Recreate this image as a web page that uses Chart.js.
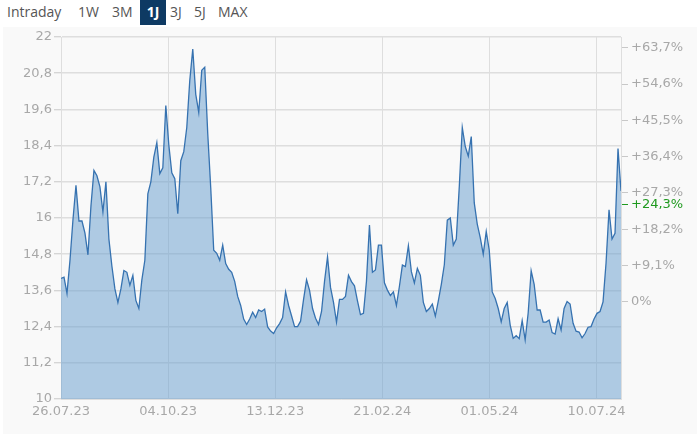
<!DOCTYPE html>
<html>
<head>
<meta charset="utf-8">
<script src="https://cdn.jsdelivr.net/npm/chart.js@4.4.1/dist/chart.umd.min.js"></script>
<style>
  body { margin: 0; background: #fff; width: 700px; height: 438px; overflow: hidden; position: relative; }
  .tabs { position: absolute; left: 0; top: 0; height: 25px; font-family: "Open Sans", sans-serif; font-size: 14px; color: #555; }
  .tabs span { position: absolute; top: 0; height: 25px; line-height: 24px; white-space: nowrap; }
  .tabs .active { background: #0e3a63; color: #fff; font-weight: bold; text-align: center; }
  .panel { position: absolute; left: 3px; top: 27px; width: 694px; height: 407px; background: #f9f9f9; }
  #chart { position: absolute; left: 0; top: 0; }
</style>
</head>
<body>
<div class="tabs">
  <span style="left:7px">Intraday</span>
  <span style="left:78px">1W</span>
  <span style="left:112px">3M</span>
  <span class="active" style="left:140px;width:26px">1J</span>
  <span style="left:170px">3J</span>
  <span style="left:194px">5J</span>
  <span style="left:218px">MAX</span>
</div>
<div class="panel"></div>
<canvas id="chart" width="700" height="438"></canvas>
<script>
// Price, one value about every two calendar days from 26.07.23
const prices = [
  14.0, 14.04, 13.5, 14.6, 15.95, 17.08, 15.9, 15.9, 15.5, 14.78,
  16.4, 17.58, 17.4, 17.03, 16.2, 17.2, 15.3, 14.4, 13.65, 13.2,
  13.65, 14.26, 14.2, 13.77, 14.1, 13.27, 13.0, 13.95, 14.6, 16.8,
  17.2, 18.02, 18.5, 17.47, 17.66, 19.73, 18.43, 17.5, 17.3, 16.14,
  17.9, 18.2, 19.0, 20.56, 21.6, 20.1, 19.5, 20.9, 21.0, 18.8,
  17.0, 14.93, 14.83, 14.6, 15.1, 14.49, 14.3, 14.2, 13.9, 13.4,
  13.1, 12.65, 12.47, 12.65, 12.88, 12.7, 12.95, 12.9, 12.98, 12.39,
  12.25, 12.17, 12.36, 12.5, 12.7, 13.55, 13.1, 12.75, 12.4, 12.4,
  12.58, 13.3, 13.95, 13.6, 13.0, 12.68, 12.47, 12.9, 13.9, 14.71,
  13.7, 13.2, 12.55, 13.3, 13.3, 13.4, 14.1, 13.89, 13.75, 13.25,
  12.8, 12.84, 13.9, 15.77, 14.2, 14.28, 15.1, 15.1, 13.85, 13.61,
  13.43, 13.55, 13.1, 13.73, 14.44, 14.39, 15.08, 14.22, 13.85, 14.33,
  14.1, 13.2, 12.9, 13.0, 13.15, 12.75, 13.25, 13.8, 14.45, 15.93,
  16.0, 15.1, 15.3, 17.04, 19.0, 18.37, 18.05, 18.7, 16.5, 15.8,
  15.35, 14.8, 15.55, 14.94, 13.55, 13.33, 13.0, 12.56, 13.0, 13.2,
  12.45, 12.01, 12.1, 12.0, 12.6, 11.96, 12.85, 14.25, 13.8, 12.95,
  12.95, 12.55, 12.55, 12.62, 12.2, 12.15, 12.66, 12.29, 13.0, 13.23,
  13.15, 12.51, 12.25, 12.22, 12.03, 12.17, 12.38, 12.4, 12.65, 12.84,
  12.9, 13.22, 14.5, 16.27, 15.3, 15.49, 18.3, 16.9
];

const dateLabels = ['26.07.23', '04.10.23', '13.12.23', '21.02.24', '01.05.24', '10.07.24'];
const dateDays = [0, 70, 140, 210, 280, 350];
const totalDays = 366;

const priceTicks = [10, 11.2, 12.4, 13.6, 14.8, 16, 17.2, 18.4, 19.6, 20.8, 22];
const basePrice = 13.22;
const pctTicks = [0, 9.1, 18.2, 27.3, 36.4, 45.5, 54.6, 63.7];
const lastPct = 24.3;

const daysPerPoint = totalDays / (prices.length - 1);
const gray = '#a8a8a8';
const green = '#1f9a1f';

function fmtNum(v) {
  return (Math.round(v * 10) / 10).toString().replace('.', ',');
}
function fmtPct(p) {
  return p === 0 ? '0%' : '+' + p.toFixed(1).replace('.', ',') + '%';
}

const ctx = document.getElementById('chart').getContext('2d');
new Chart(ctx, {
  type: 'line',
  data: {
    labels: prices.map((p, i) => i),
    datasets: [{
      data: prices.map((p, i) => ({ x: i, y: p })),
      borderColor: '#3672b0',
      borderWidth: 1.3,
      backgroundColor: 'rgba(100,155,205,0.5)',
      fill: 'start',
      pointRadius: 0,
      tension: 0
    }]
  },
  options: {
    responsive: false,
    animation: false,
    layout: { padding: { top: 37, left: 0, right: 0, bottom: 0 } },
    plugins: { legend: { display: false }, tooltip: { enabled: false } },
    scales: {
      x: {
        type: 'linear',
        min: 0,
        max: prices.length - 1,
        afterBuildTicks: s => { s.ticks = dateDays.map(d => ({ value: d / daysPerPoint })); },
        afterFit: s => { s.height = 39; },
        ticks: {
          autoSkip: false,
          maxRotation: 0,
          padding: 5,
          color: gray,
          font: { family: 'DejaVu Sans', size: 13 },
          callback: (v, i) => dateLabels[i]
        },
        grid: { color: '#dedede', lineWidth: 1, drawTicks: false },
        border: { display: true, color: '#dedede' }
      },
      y: {
        position: 'left',
        min: 10,
        max: 22,
        afterBuildTicks: s => { s.ticks = priceTicks.map(v => ({ value: v })); },
        afterFit: s => { s.width = 61; },
        ticks: {
          padding: 2,
          color: gray,
          font: { family: 'DejaVu Sans', size: 13 },
          callback: v => fmtNum(v)
        },
        grid: { color: '#dedede', lineWidth: 1.5, tickLength: 7, tickColor: '#c8c8c8', tickWidth: 1 },
        border: { display: true, color: '#dedede' }
      },
      y2: {
        position: 'right',
        min: 10,
        max: 22,
        afterBuildTicks: s => {
          const t = pctTicks.map(p => ({ value: basePrice * (1 + p / 100), pct: p }));
          t.push({ value: basePrice * (1 + lastPct / 100), pct: lastPct, hl: true });
          t.sort((a, b) => a.value - b.value);
          s.ticks = t;
        },
        afterFit: s => { s.width = 79; },
        ticks: {
          autoSkip: false,
          padding: 3,
          color: c => (c.tick && c.tick.hl ? green : gray),
          font: { family: 'DejaVu Sans', size: 13 },
          callback: function (v, i, ticks) { return fmtPct(ticks[i].pct); }
        },
        grid: {
          drawOnChartArea: false,
          tickLength: 7,
          tickColor: c => (c.tick && c.tick.hl ? green : '#c8c8c8')
        },
        border: { display: true, color: '#dedede' }
      }
    }
  }
});
</script>
</body>
</html>
